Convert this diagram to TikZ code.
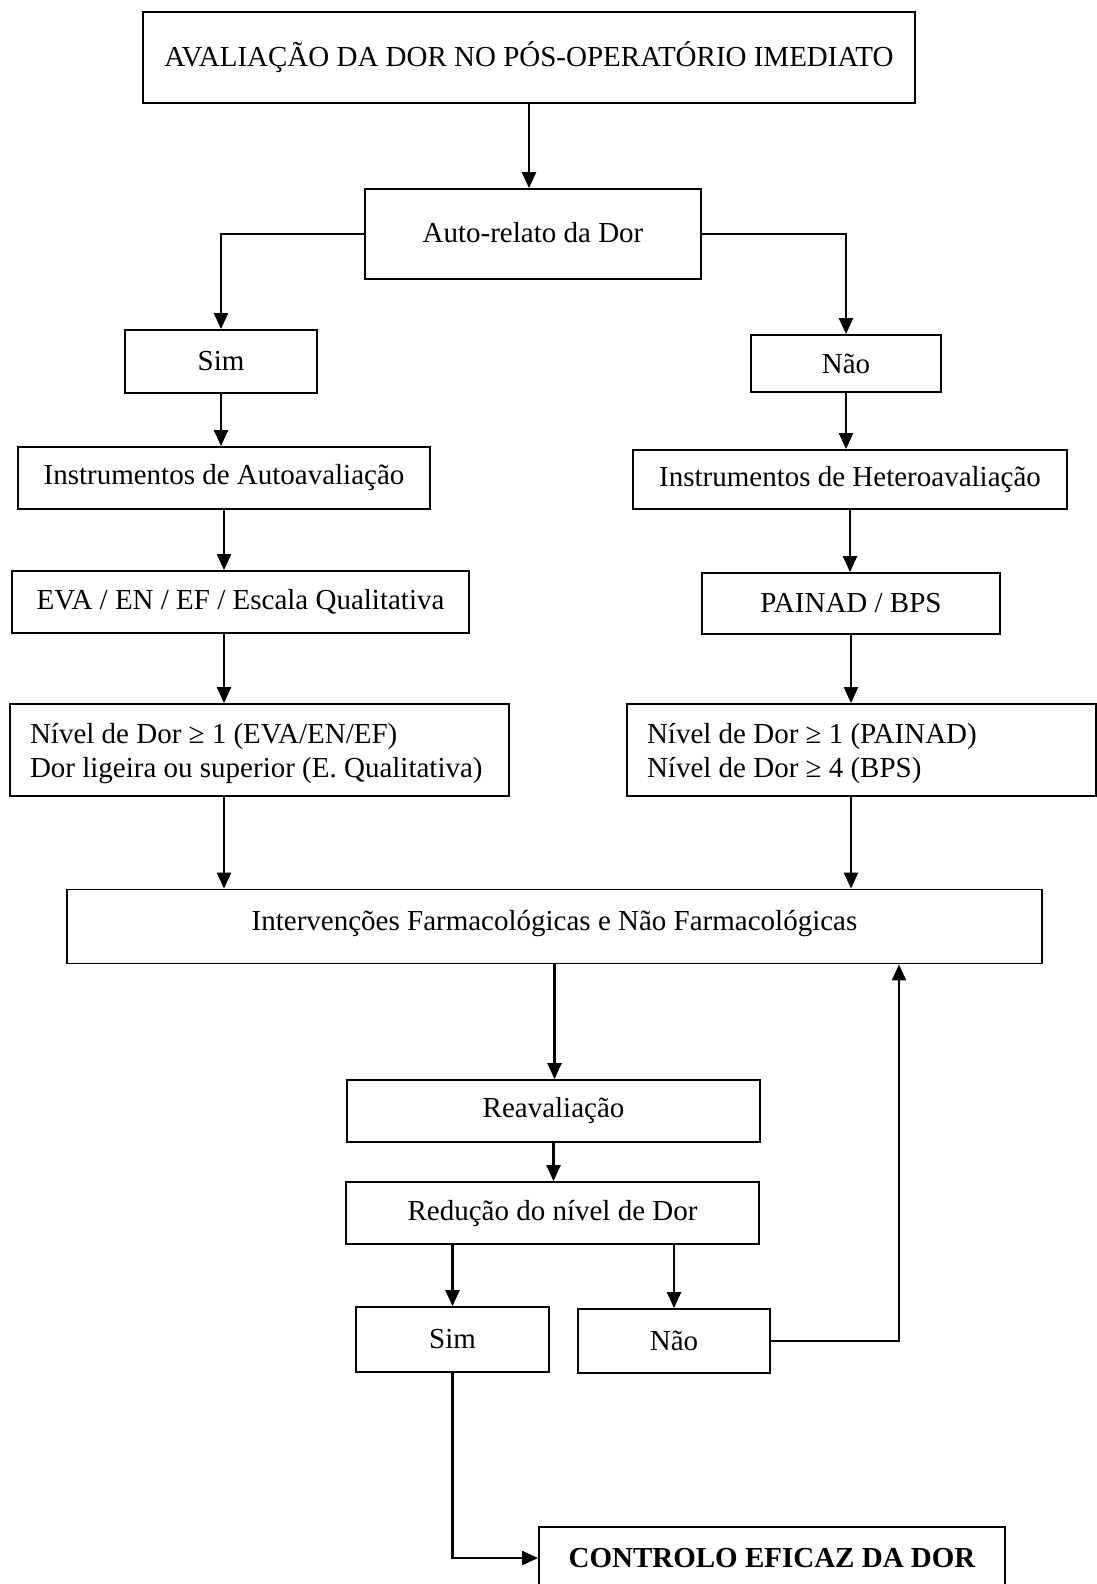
\documentclass[tikz,border=0pt]{standalone}
\usepackage{fontspec}
\setmainfont{Liberation Serif}
\usetikzlibrary{arrows.meta,calc}
\newcommand{\twolines}[3]{\makebox[#1][l]{\begin{tabular}[t]{@{}l@{}}#2\\#3\end{tabular}}}
\begin{document}
\begin{tikzpicture}[x=1pt,y=-1pt,
  box/.style={draw,line width=1.8pt,inner sep=0pt,font=\fontsize{29}{33.5}\selectfont},
  arr/.style={line width=2.2pt,-{Triangle[length=16pt,width=14pt]}}]
\clip (0,0) rectangle (1097,1584);
\fill[white] (0,0) rectangle (1097,1584);
\node[box,minimum width=772,minimum height=91] (title) at (529,57.5) {AVALIAÇÃO DA DOR NO PÓS-OPERATÓRIO IMEDIATO};
\node[box,minimum width=336,minimum height=90,text height=20pt,text depth=4pt] (auto) at (533,234) {Auto-relato da Dor};
\node[box,minimum width=192,minimum height=63] (sim1) at (221,361.5) {Sim};
\node[box,minimum width=190,minimum height=57] (nao1) at (846,363.5) {Não};
\node[box,minimum width=412,minimum height=62] (instA) at (224,478) {Instrumentos de Autoavaliação};
\node[box,minimum width=434,minimum height=59] (instH) at (850,479.5) {Instrumentos de Heteroavaliação};
\node[box,minimum width=457,minimum height=62] (eva) at (240.5,602) {EVA / EN / EF / Escala Qualitativa};
\node[box,minimum width=298,minimum height=61] (painad) at (851,603.5) {PAINAD / BPS};
\node[box,minimum height=92,inner xsep=20pt,text height=27.45pt,text depth=39.55pt] (nivL) at (259.5,750) {\twolines{459pt}{Nível de Dor ≥ 1 (EVA/EN/EF)}{Dor ligeira ou superior (E. Qualitativa)}};
\node[box,minimum height=92,inner xsep=20pt,text height=27.45pt,text depth=39.55pt] (nivR) at (861.5,750) {\twolines{429pt}{Nível de Dor ≥ 1 (PAINAD)}{Nível de Dor ≥ 4 (BPS)}};
\node[box,minimum width=975,minimum height=74,text height=20pt,text depth=12pt] (interv) at (554.5,926.5) {Intervenções Farmacológicas e Não Farmacológicas};
\node[box,minimum width=413,minimum height=62] (reav) at (553.5,1111) {Reavaliação};
\node[box,minimum width=413,minimum height=62] (red) at (552.5,1213) {Redução do nível de Dor};
\node[box,minimum width=193,minimum height=65] (sim2) at (452.5,1339.5) {Sim};
\node[box,minimum width=192,minimum height=64] (nao2) at (674,1341) {Não};
\node[box,minimum width=466,minimum height=62,font=\fontsize{29}{33.5}\selectfont\bfseries] (ctrl) at (772,1558) {CONTROLO EFICAZ DA DOR};
\coordinate (fb) at (899,0);
\draw[arr] (title.south) -- (title.south |- auto.north);
\draw[arr] (auto.west) -| (sim1.north);
\draw[arr] (auto.east) -| (nao1.north);
\draw[arr] (sim1.south) -- (sim1.south |- instA.north);
\draw[arr] (nao1.south) -- (nao1.south |- instH.north);
\draw[arr] (instA.south) -- (instA.south |- eva.north);
\draw[arr] (instH.south) -- (instH.south |- painad.north);
\draw[arr] (eva.south -| instA.south) -- (instA.south |- nivL.north);
\draw[arr] (painad.south) -- (painad.south |- nivR.north);
\draw[arr] (nivL.south -| instA.south) -- (instA.south |- interv.north);
\draw[arr] (nivR.south -| painad.south) -- (painad.south |- interv.north);
\draw[arr] (interv.south) -- (interv.south |- reav.north);
\draw[arr] (reav.south) -- (reav.south |- red.north);
\draw[arr] (red.south -| sim2.north) -- (sim2.north);
\draw[arr] (red.south -| nao2.north) -- (nao2.north);
\draw[arr] (nao2.east) -| (interv.south -| fb);
\draw[arr] (sim2.south) |- (ctrl.west);
\end{tikzpicture}
\end{document}
